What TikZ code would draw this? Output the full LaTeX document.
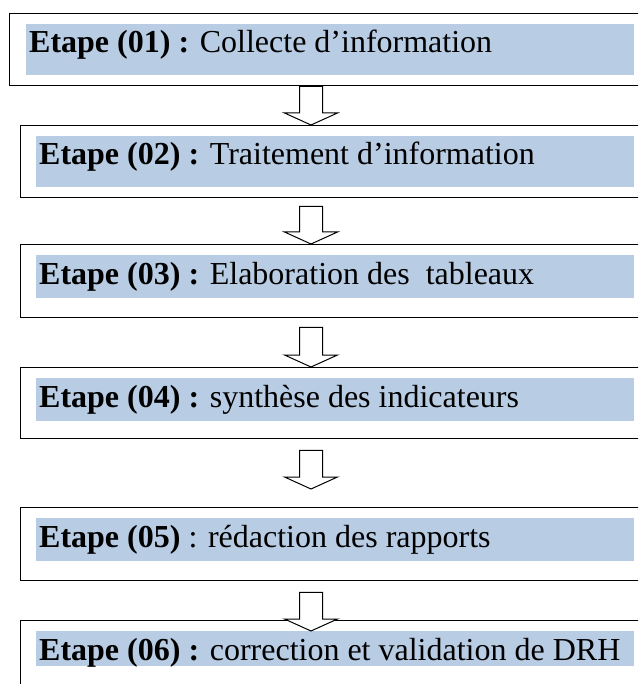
\documentclass[tikz,border=0pt]{standalone}
\usepackage{fontspec}
\setmainfont{Liberation Serif}
\usetikzlibrary{calc}
\definecolor{stepshade}{RGB}{184,204,228}

% hollow block arrow from the top of its shaft (#1) down to its tip (#2)
\newcommand\flowarrow[2]{%
  \draw[blockarr] ($(#1)+(-11.5,0)$) -- ($(#2)+(-11.5,12)$) -- ($(#2)+(-26.5,12)$)
    -- (#2) -- ($(#2)+(26.5,12)$) -- ($(#2)+(11.5,12)$) -- ($(#1)+(11.5,0)$) -- cycle;}

\begin{document}
\begin{tikzpicture}[x=1pt,y=1pt,
  stepbox/.style={draw=black, line width=1.4pt, rectangle, inner sep=0pt,
    anchor=north west, minimum height=72pt},
  stepfill/.style={fill=stepshade, rectangle, inner sep=0pt, anchor=north west},
  steptext/.style={anchor=base west, inner sep=0pt, font=\fontsize{32}{38}\selectfont},
  blockarr/.style={draw=black, fill=white, line width=1pt, line join=miter}]
\useasboundingbox (0,0) rectangle (638,-684);
\clip (0,0) rectangle (638,-684);

% outer frames of the six stages
\node[stepbox, minimum width=640pt] (b1) at (9,-13) {};
\node[stepbox, minimum width=630pt] (b2) at (20,-125) {};
\node[stepbox, minimum width=630pt, minimum height=73pt] (b3) at (20,-244) {};
\node[stepbox, minimum width=630pt, minimum height=71pt] (b4) at (20,-367) {};
\node[stepbox, minimum width=630pt, minimum height=73pt] (b5) at (20,-507) {};
\node[stepbox, minimum width=630pt, minimum height=90pt] (b6) at (20,-620) {};

% shaded text bands
\node[stepfill, minimum width=608pt, minimum height=51pt] (f1) at (26,-24) {};
\node[stepfill, minimum width=598pt, minimum height=51pt] (f2) at (36,-136) {};
\node[stepfill, minimum width=598pt, minimum height=43pt] (f3) at (36,-255) {};
\node[stepfill, minimum width=598pt, minimum height=43pt] (f4) at (36,-378) {};
\node[stepfill, minimum width=598pt, minimum height=43pt] (f5) at (36,-518) {};
\node[stepfill, minimum width=598pt, minimum height=35pt] (f6) at (36,-631) {};

% stage labels
\node[steptext] (t1) at (29,-53) {\textbf{Etape (01) :} Collecte d’information};
\node[steptext] (t2) at (39,-165) {\textbf{Etape (02) :} Traitement d’information};
\node[steptext] (t3) at (39,-284) {\textbf{Etape (03) :} Elaboration des\ \ tableaux};
\node[steptext] (t4) at (39,-407) {\textbf{Etape (04) :} synthèse des indicateurs};
\node[steptext] (t5) at (39,-547) {\textbf{Etape (05)} : rédaction des rapports};
\node[steptext] (t6) at (39,-660) {\textbf{Etape (06) :} correction et validation de DRH};

% arrows between the stages
\coordinate (ax) at (311,0);
\coordinate (a1t) at (ax |- b1.south);
\coordinate (a1p) at (ax |- b2.north);
\coordinate (a2t) at ($(ax |- b2.south)+(0,-8)$);
\coordinate (a2p) at (ax |- b3.north);
\coordinate (a3t) at ($(ax |- b3.south)+(0,-9)$);
\coordinate (a3p) at (ax |- b4.north);
\coordinate (a4t) at ($(ax |- b4.south)+(0,-11)$);
\coordinate (a4p) at ($(ax |- b5.north)+(0,18)$);
\coordinate (a5t) at ($(ax |- b5.south)+(0,-11)$);
\coordinate (a5p) at ($(ax |- b6.north)+(0,-11)$);
\flowarrow{a1t}{a1p}
\flowarrow{a2t}{a2p}
\flowarrow{a3t}{a3p}
\flowarrow{a4t}{a4p}
\flowarrow{a5t}{a5p}
\end{tikzpicture}
\end{document}
